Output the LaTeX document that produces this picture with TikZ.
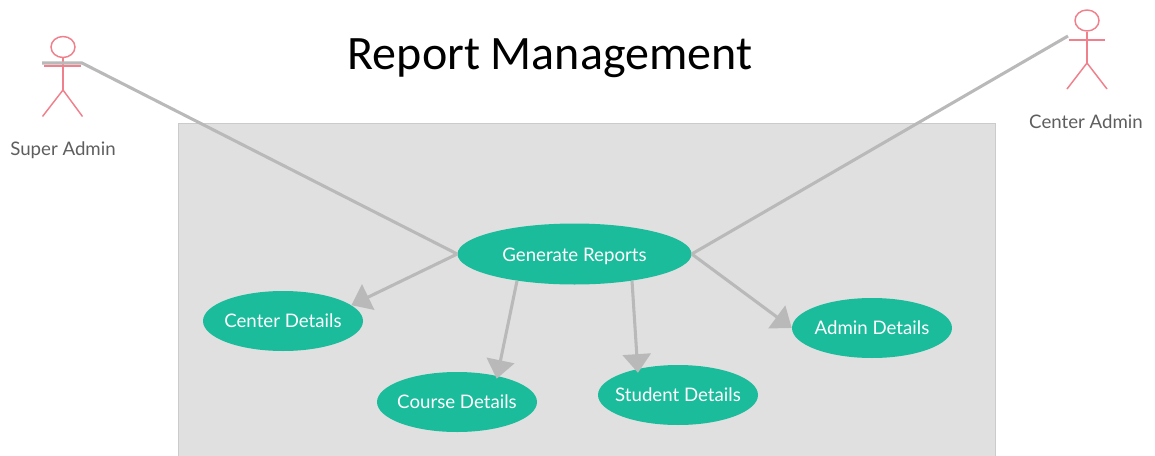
\documentclass[tikz,border=0pt]{standalone}
\usepackage{fontspec}
\setmainfont{Lato}
\newfontfamily\titlefont{Carlito}
\usetikzlibrary{arrows.meta,shapes.geometric}
\definecolor{teal}{HTML}{1ABC9C}
\definecolor{wire}{HTML}{B9B9B9}
\definecolor{actor}{HTML}{F0808C}
\definecolor{panelfill}{HTML}{E0E0E0}
\definecolor{panelline}{HTML}{CBCBCB}
\definecolor{labelgray}{HTML}{5E5E5E}
\newcommand{\pxu}{*0.75pt}
\newcommand{\caselabel}[2][-4.8pt]{\makebox[0pt][c]{\raisebox{#1}[0pt][0pt]{#2}}}
\tikzset{
  usecase/.style={ellipse,fill=teal,text=white,inner sep=0pt,minimum width=160\pxu,minimum height=60\pxu,font=\fontsize{14pt}{16pt}\selectfont},
  bigcase/.style={usecase,minimum width=234\pxu,minimum height=61\pxu},
  wireline/.style={draw=wire,line width=2.3pt},
  wirearrow/.style={wireline,-{Triangle[length=14pt,width=21pt,fill=wire]}},
  actorline/.style={draw=actor,line width=1.1pt},
  actorlabel/.style={text=labelgray,font=\fontsize{14pt}{16pt}\selectfont,inner sep=0pt},
}
\begin{document}
\begin{tikzpicture}[x=0.75pt,y=-0.75pt]
\useasboundingbox (0,0) rectangle (1155,456);
% panel
\fill[panelfill] (178,124) rectangle (995,456);
\draw[panelline,line width=0.75pt] (178,456) -- (178,124) -- (995,124) -- (995,456);
% title
\node[inner sep=0pt,font=\titlefont\fontsize{36pt}{42pt}\selectfont] (title) at (550,58) {Report Management};
% use cases
\node[bigcase] (gen) at (574.5,254) {\caselabel[-5.4pt]{Generate Reports}};
\node[usecase] (center) at (283,321) {\caselabel{Center Details}};
\node[usecase] (course) at (457,402) {\caselabel{Course Details}};
\node[usecase] (student) at (678,395) {\caselabel{Student Details}};
\node[usecase] (admin) at (872,328) {\caselabel{Admin Details}};
% super admin
\node[ellipse,draw=actor,line width=1.1pt,inner sep=0pt,minimum width=24\pxu,minimum height=21\pxu] (sahead) at (63,47) {};
\coordinate (sahip) at (63,90);
\coordinate (saarmL) at (44,66);
\coordinate (saarmR) at (81,66);
\coordinate (salegL) at (42.5,116.5);
\coordinate (salegR) at (82.5,116.5);
\draw[actorline] (sahead.south) -- (sahip);
\draw[actorline] (saarmL) -- (saarmR);
\draw[actorline] (salegL) -- (sahip) -- (salegR);
\node[actorlabel] (salabel) at (63,150) {Super Admin};
% center admin
\node[ellipse,draw=actor,line width=1.1pt,inner sep=0pt,minimum width=24\pxu,minimum height=21\pxu] (cahead) at (1087,20.5) {};
\coordinate (cahip) at (1087,63);
\coordinate (caarmL) at (1068.5,40);
\coordinate (caarmR) at (1105,40);
\coordinate (calegL) at (1067,89);
\coordinate (calegR) at (1107,89);
\draw[actorline] (cahead.south) -- (cahip);
\draw[actorline] (caarmL) -- (caarmR);
\draw[actorline] (calegL) -- (cahip) -- (calegR);
\node[actorlabel] (calabel) at (1086,122) {Center Admin};
% associations
\coordinate (sahand) at (42,63);
\coordinate (sashoulder) at (82,63);
\coordinate (cahand) at (1068,36);
\draw[wireline] (sahand) -- (sashoulder) -- (gen.west);
\draw[wireline] (cahand) -- (gen.east);
% includes
\draw[wirearrow] (gen.west) -- (center.13.4);
\draw[wirearrow,shorten >=-2.2pt] (gen.205) -- (course.33);
\draw[wirearrow,shorten >=-3pt] (gen.335) -- (student.147);
\draw[wirearrow] (gen.east) -- (admin.west);
\end{tikzpicture}
\end{document}
